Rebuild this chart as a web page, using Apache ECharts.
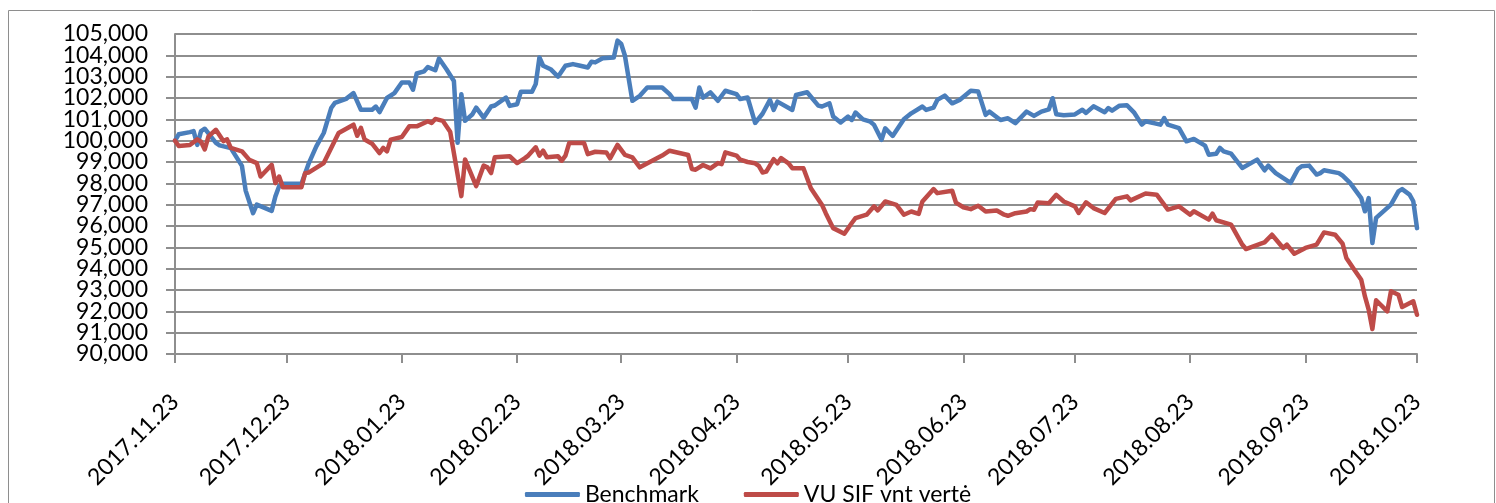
<!DOCTYPE html>
<html>

<head>
    <meta charset="utf-8">
    <title>Benchmark vs VU SIF</title>
    <script src="https://cdn.jsdelivr.net/npm/echarts@6.0.0/dist/echarts.min.js"></script>
    <style>
        html, body { margin: 0; padding: 0; background: #fff; }
    </style>
</head>

<body>
    <div id="main" style="width: 1496px;height:503px;"></div>
    <script type="text/javascript">
        // first and last day on the x axis
        var startDay = '2017.11.23';
        var endDay = '2018.10.23';

        // y axis range
        var yMin = 90000;
        var yMax = 105000;
        var yStep = 1000;

        var seriesNames = ['Benchmark', 'VU SIF vnt vertė'];

        // [day, value]
        var benchmark = [
            ['2017.11.23', 100000], ['2017.11.24', 100300], ['2017.11.27', 100400], ['2017.11.28', 100450],
            ['2017.11.29', 99800], ['2017.11.30', 100450], ['2017.12.01', 100560], ['2017.12.04', 99900],
            ['2017.12.05', 99780], ['2017.12.08', 99650], ['2017.12.11', 98820], ['2017.12.12', 97660],
            ['2017.12.14', 96600], ['2017.12.15', 97000], ['2017.12.19', 96710], ['2017.12.20', 97390],
            ['2017.12.21', 97860], ['2017.12.22', 97980], ['2017.12.27', 97980], ['2017.12.29', 98950],
            ['2017.12.31', 99730], ['2018.01.02', 100360], ['2018.01.04', 101530], ['2018.01.05', 101770],
            ['2018.01.08', 101960], ['2018.01.10', 102230], ['2018.01.12', 101450], ['2018.01.15', 101450],
            ['2018.01.16', 101600], ['2018.01.17', 101340], ['2018.01.19', 102000], ['2018.01.21', 102230],
            ['2018.01.23', 102730], ['2018.01.25', 102730], ['2018.01.26', 102390], ['2018.01.27', 103150],
            ['2018.01.29', 103250], ['2018.01.30', 103450], ['2018.02.01', 103300], ['2018.02.02', 103850],
            ['2018.02.04', 103350], ['2018.02.06', 102800], ['2018.02.07', 99900], ['2018.02.08', 102180],
            ['2018.02.09', 100930], ['2018.02.11', 101240], ['2018.02.12', 101550], ['2018.02.14', 101080],
            ['2018.02.16', 101600], ['2018.02.17', 101650], ['2018.02.20', 102020], ['2018.02.21', 101630],
            ['2018.02.23', 101710], ['2018.02.24', 102290], ['2018.02.27', 102290], ['2018.02.28', 102650],
            ['2018.03.01', 103900], ['2018.03.02', 103510], ['2018.03.04', 103350], ['2018.03.06', 103000],
            ['2018.03.08', 103510], ['2018.03.10', 103590], ['2018.03.12', 103510], ['2018.03.14', 103430],
            ['2018.03.15', 103700], ['2018.03.16', 103670], ['2018.03.18', 103860], ['2018.03.21', 103900],
            ['2018.03.22', 104690], ['2018.03.23', 104530], ['2018.03.24', 103980], ['2018.03.26', 101870],
            ['2018.03.28', 102100], ['2018.03.30', 102490], ['2018.04.03', 102490], ['2018.04.05', 102180],
            ['2018.04.06', 101950], ['2018.04.11', 101950], ['2018.04.12', 101550], ['2018.04.13', 102490],
            ['2018.04.14', 102020], ['2018.04.16', 102260], ['2018.04.18', 101870], ['2018.04.20', 102340],
            ['2018.04.23', 102180], ['2018.04.24', 101950], ['2018.04.26', 102020], ['2018.04.28', 100830],
            ['2018.04.30', 101260], ['2018.05.02', 101910], ['2018.05.03', 101440], ['2018.05.04', 101830],
            ['2018.05.08', 101440], ['2018.05.09', 102140], ['2018.05.12', 102270], ['2018.05.15', 101640],
            ['2018.05.16', 101600], ['2018.05.18', 101750], ['2018.05.19', 101130], ['2018.05.21', 100850],
            ['2018.05.23', 101130], ['2018.05.24', 100970], ['2018.05.25', 101320], ['2018.05.27', 101000],
            ['2018.05.29', 100890], ['2018.05.30', 100740], ['2018.06.01', 100040], ['2018.06.02', 100580],
            ['2018.06.04', 100220], ['2018.06.07', 101000], ['2018.06.09', 101280], ['2018.06.12', 101600],
            ['2018.06.13', 101440], ['2018.06.15', 101550], ['2018.06.16', 101910], ['2018.06.18', 102110],
            ['2018.06.20', 101750], ['2018.06.22', 101910], ['2018.06.25', 102340], ['2018.06.27', 102300],
            ['2018.06.29', 101210], ['2018.06.30', 101360], ['2018.07.03', 100970], ['2018.07.05', 101050],
            ['2018.07.07', 100820], ['2018.07.10', 101360], ['2018.07.12', 101160], ['2018.07.14', 101360],
            ['2018.07.16', 101470], ['2018.07.17', 101990], ['2018.07.18', 101240], ['2018.07.20', 101190],
            ['2018.07.23', 101230], ['2018.07.25', 101450], ['2018.07.26', 101300], ['2018.07.28', 101610],
            ['2018.07.31', 101330], ['2018.08.01', 101530], ['2018.08.02', 101410], ['2018.08.04', 101640],
            ['2018.08.06', 101660], ['2018.08.08', 101300], ['2018.08.10', 100750], ['2018.08.11', 100910],
            ['2018.08.15', 100750], ['2018.08.16', 101060], ['2018.08.17', 100750], ['2018.08.20', 100590],
            ['2018.08.22', 99970], ['2018.08.24', 100080], ['2018.08.27', 99770], ['2018.08.28', 99340],
            ['2018.08.30', 99390], ['2018.08.31', 99660], ['2018.09.01', 99500], ['2018.09.03', 99390],
            ['2018.09.06', 98720], ['2018.09.10', 99110], ['2018.09.12', 98610], ['2018.09.13', 98830],
            ['2018.09.15', 98480], ['2018.09.19', 98020], ['2018.09.21', 98670], ['2018.09.22', 98800],
            ['2018.09.24', 98830], ['2018.09.26', 98410], ['2018.09.27', 98480], ['2018.09.28', 98610],
            ['2018.10.02', 98480], ['2018.10.03', 98360], ['2018.10.05', 98020], ['2018.10.08', 97310],
            ['2018.10.09', 96690], ['2018.10.10', 97310], ['2018.10.11', 95200], ['2018.10.12', 96380],
            ['2018.10.16', 97000], ['2018.10.18', 97620], ['2018.10.19', 97730], ['2018.10.21', 97470],
            ['2018.10.22', 97160], ['2018.10.23', 95900]
        ];

        var vuSif = [
            ['2017.11.23', 100000], ['2017.11.24', 99750], ['2017.11.27', 99800], ['2017.11.29', 100060],
            ['2017.11.30', 99950], ['2017.12.01', 99590], ['2017.12.02', 100200], ['2017.12.04', 100510],
            ['2017.12.06', 99980], ['2017.12.07', 100060], ['2017.12.08', 99660], ['2017.12.11', 99500],
            ['2017.12.13', 99100], ['2017.12.15', 98950], ['2017.12.16', 98320], ['2017.12.19', 98870],
            ['2017.12.20', 98010], ['2017.12.21', 98320], ['2017.12.22', 97820], ['2017.12.27', 97820],
            ['2017.12.28', 98480], ['2017.12.29', 98510], ['2018.01.02', 98950], ['2018.01.06', 100360],
            ['2018.01.10', 100750], ['2018.01.11', 100230], ['2018.01.12', 100600], ['2018.01.13', 100050],
            ['2018.01.15', 99860], ['2018.01.17', 99420], ['2018.01.18', 99660], ['2018.01.19', 99500],
            ['2018.01.20', 100050], ['2018.01.23', 100170], ['2018.01.25', 100670], ['2018.01.27', 100670],
            ['2018.01.30', 100910], ['2018.01.31', 100830], ['2018.02.01', 101020], ['2018.02.03', 100930],
            ['2018.02.05', 100420], ['2018.02.08', 97400], ['2018.02.09', 99120], ['2018.02.12', 97870],
            ['2018.02.14', 98830], ['2018.02.15', 98750], ['2018.02.16', 98480], ['2018.02.17', 99220],
            ['2018.02.21', 99270], ['2018.02.23', 98950], ['2018.02.25', 99170], ['2018.02.26', 99300],
            ['2018.02.28', 99690], ['2018.03.01', 99300], ['2018.03.02', 99530], ['2018.03.03', 99220],
            ['2018.03.06', 99270], ['2018.03.07', 99060], ['2018.03.08', 99300], ['2018.03.09', 99890],
            ['2018.03.13', 99890], ['2018.03.14', 99370], ['2018.03.16', 99480], ['2018.03.19', 99450],
            ['2018.03.20', 99170], ['2018.03.22', 99800], ['2018.03.24', 99330], ['2018.03.26', 99220],
            ['2018.03.28', 98750], ['2018.04.03', 99300], ['2018.04.05', 99530], ['2018.04.10', 99330],
            ['2018.04.11', 98670], ['2018.04.12', 98640], ['2018.04.14', 98860], ['2018.04.16', 98700],
            ['2018.04.18', 98950], ['2018.04.19', 98900], ['2018.04.20', 99450], ['2018.04.23', 99300],
            ['2018.04.24', 99110], ['2018.04.26', 99000], ['2018.04.28', 98940], ['2018.04.29', 98820],
            ['2018.04.30', 98510], ['2018.05.01', 98550], ['2018.05.03', 99130], ['2018.05.04', 98940],
            ['2018.05.05', 99180], ['2018.05.07', 98940], ['2018.05.08', 98710], ['2018.05.11', 98710],
            ['2018.05.13', 97770], ['2018.05.16', 96990], ['2018.05.17', 96600], ['2018.05.19', 95900],
            ['2018.05.22', 95640], ['2018.05.24', 96140], ['2018.05.25', 96370], ['2018.05.28', 96530],
            ['2018.05.30', 96920], ['2018.05.31', 96730], ['2018.06.02', 97150], ['2018.06.05', 96990],
            ['2018.06.07', 96530], ['2018.06.09', 96680], ['2018.06.11', 96570], ['2018.06.12', 97150],
            ['2018.06.15', 97730], ['2018.06.16', 97540], ['2018.06.20', 97650], ['2018.06.21', 97100],
            ['2018.06.23', 96880], ['2018.06.25', 96790], ['2018.06.27', 96950], ['2018.06.29', 96680],
            ['2018.07.02', 96730], ['2018.07.04', 96530], ['2018.07.05', 96480], ['2018.07.07', 96600],
            ['2018.07.10', 96680], ['2018.07.11', 96790], ['2018.07.12', 96760], ['2018.07.13', 97100],
            ['2018.07.16', 97070], ['2018.07.18', 97460], ['2018.07.20', 97150], ['2018.07.23', 96920],
            ['2018.07.24', 96610], ['2018.07.26', 97110], ['2018.07.28', 96840], ['2018.07.31', 96610],
            ['2018.08.03', 97270], ['2018.08.06', 97390], ['2018.08.07', 97200], ['2018.08.11', 97520],
            ['2018.08.14', 97470], ['2018.08.17', 96770], ['2018.08.20', 96920], ['2018.08.23', 96530],
            ['2018.08.24', 96690], ['2018.08.28', 96300], ['2018.08.29', 96580], ['2018.08.30', 96270],
            ['2018.09.03', 96060], ['2018.09.06', 95130], ['2018.09.07', 94920], ['2018.09.11', 95170],
            ['2018.09.12', 95230], ['2018.09.14', 95590], ['2018.09.17', 94970], ['2018.09.18', 95130],
            ['2018.09.20', 94700], ['2018.09.23', 94970], ['2018.09.26', 95130], ['2018.09.28', 95700],
            ['2018.10.01', 95590], ['2018.10.03', 95170], ['2018.10.04', 94500], ['2018.10.06', 93980],
            ['2018.10.08', 93480], ['2018.10.09', 92700], ['2018.10.10', 92080], ['2018.10.11', 91170],
            ['2018.10.12', 92520], ['2018.10.15', 92000], ['2018.10.16', 92940], ['2018.10.18', 92780],
            ['2018.10.19', 92200], ['2018.10.22', 92470], ['2018.10.23', 91840]
        ];

        // every calendar day between start and end is one category
        function pad(n) { return n < 10 ? '0' + n : '' + n; }
        function toDate(s) {
            var p = s.split('.');
            return new Date(Date.UTC(+p[0], +p[1] - 1, +p[2]));
        }
        var days = [];
        for (var t = toDate(startDay); t <= toDate(endDay); t = new Date(t.getTime() + 86400000)) {
            days.push(t.getUTCFullYear() + '.' + pad(t.getUTCMonth() + 1) + '.' + pad(t.getUTCDate()));
        }

        // labels and ticks only on the 23rd of each month
        function onThe23rd(index, value) {
            return value.slice(8) === '23';
        }

        var gridGrey = '#8e8e8e';
        var font = 'Lato';

        // the y labels sit closer than their height, so ECharts would drop the ones next to min/max;
        // two overlaid axes each print every other label instead
        function yLabel(even) {
            return function (v) {
                var isEven = (v / yStep) % 2 === 0;
                return isEven === even ? v.toLocaleString('en-US') : '';
            };
        }
        var yLabelStyle = { margin: 27, fontFamily: font, fontSize: 23, color: '#000' };

        var myChart = echarts.init(document.getElementById('main'));

        var option = {
            animation: false,
            backgroundColor: '#fff',
            color: ['#4a7ebb', '#be4b48'],
            graphic: [{
                type: 'rect',
                shape: { x: 8.5, y: 10.5, width: 1486, height: 520 },
                style: { fill: 'none', stroke: '#8e8e8e', lineWidth: 1 },
                silent: true
            }],
            grid: { left: 175, right: 79, top: 34, bottom: 149 },
            legend: {
                left: 'center',
                top: 478,
                itemWidth: 55,
                itemHeight: 5,
                itemGap: 45,
                icon: 'roundRect',
                textStyle: { fontFamily: font, fontSize: 23, color: '#000' },
                data: seriesNames
            },
            xAxis: {
                type: 'category',
                boundaryGap: false,
                data: days,
                axisLine: { lineStyle: { color: gridGrey, width: 2 } },
                axisTick: { interval: onThe23rd, length: 9, lineStyle: { color: gridGrey, width: 2 } },
                axisLabel: {
                    interval: onThe23rd,
                    rotate: 45,
                    margin: 44,
                    fontFamily: font,
                    fontSize: 23,
                    color: '#000'
                },
                splitLine: { show: false }
            },
            yAxis: [
                {
                    type: 'value',
                    position: 'left',
                    min: yMin,
                    max: yMax,
                    interval: yStep,
                    axisLine: { show: true, lineStyle: { color: gridGrey, width: 2 } },
                    axisTick: { show: true, length: 9, lineStyle: { color: gridGrey, width: 2 } },
                    axisLabel: Object.assign({
                        showMinLabel: true,
                        showMaxLabel: false,
                        formatter: yLabel(true)
                    }, yLabelStyle),
                    splitLine: { lineStyle: { color: gridGrey, width: 2 } }
                },
                {
                    type: 'value',
                    position: 'left',
                    offset: 0,
                    min: yMin,
                    max: yMax,
                    interval: yStep,
                    axisLine: { show: false },
                    axisTick: { show: false },
                    axisLabel: Object.assign({
                        showMinLabel: false,
                        showMaxLabel: true,
                        formatter: yLabel(false)
                    }, yLabelStyle),
                    splitLine: { show: false }
                }
            ],
            series: [
                {
                    name: seriesNames[0],
                    type: 'line',
                    symbol: 'none',
                    lineStyle: { width: 4.5, join: 'round', cap: 'round' },
                    data: benchmark
                },
                {
                    name: seriesNames[1],
                    type: 'line',
                    symbol: 'none',
                    lineStyle: { width: 4.5, join: 'round', cap: 'round' },
                    data: vuSif
                }
            ]
        };

        myChart.setOption(option);
    </script>
</body>

</html>
